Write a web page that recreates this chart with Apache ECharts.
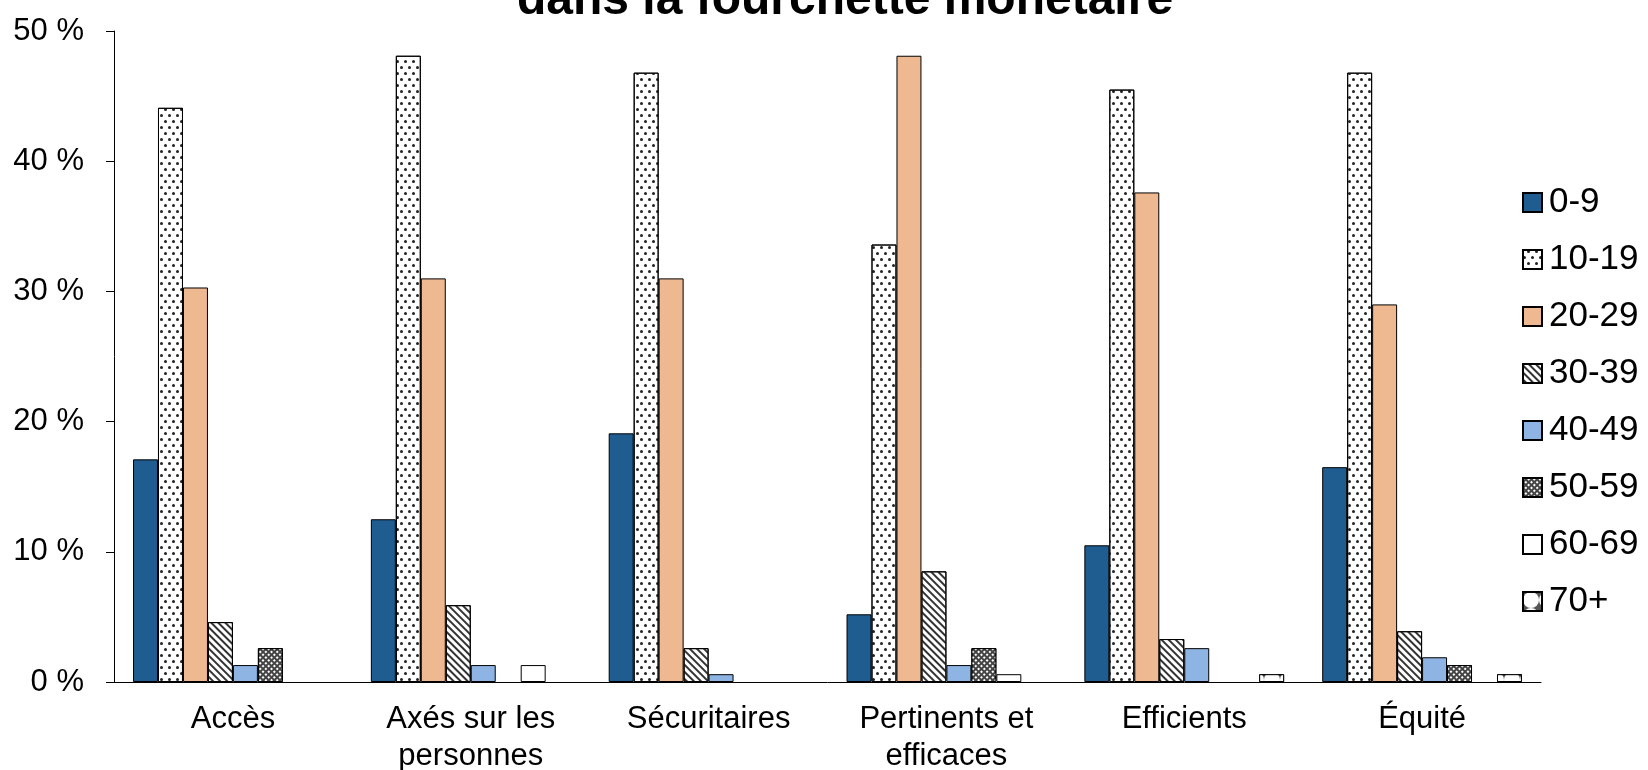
<!DOCTYPE html>
<html>
<head>
<meta charset="utf-8">
<script src="https://cdn.jsdelivr.net/npm/echarts@6/dist/echarts.min.js"></script>
<style>
  html, body { margin: 0; padding: 0; background: #fff; }
  #chart { width: 1648px; height: 770px; }
</style>
</head>
<body>
<div id="chart"></div>
<script>
const categories = ["Accès", "Axés sur les\npersonnes", "Sécuritaires", "Pertinents et\nefficaces", "Efficients", "Équité"];
const tranches = ["0-9", "10-19", "20-29", "30-39", "40-49", "50-59", "60-69", "70+"];
const yTicks = [0, 10, 20, 30, 40, 50];

const t0_9 = [17.1, 12.5, 19.1, 5.2, 10.5, 16.5];
const t10_19 = [44.1, 48.1, 46.8, 33.6, 45.5, 46.8];
const t20_29 = [30.3, 31.0, 31.0, 48.1, 37.6, 29.0];
const t30_39 = [4.6, 5.9, 2.6, 8.5, 3.3, 3.9];
const t40_49 = [1.3, 1.3, 0.6, 1.3, 2.6, 1.9];
const t50_59 = [2.6, 0, 0, 2.6, 0, 1.3];
const t60_69 = [0, 1.3, 0, 0.6, 0, 0];
const t70plus = [0, 0, 0, 0, 0.6, 0.6];

const valeurs = [t0_9, t10_19, t20_29, t30_39, t40_49, t50_59, t60_69, t70plus];

// fill + motif de chaque tranche
const styles = [
  { color: "#1F5C8F" },
  { color: "#fff", decal: { symbol: "circle", symbolSize: 1, color: "#222", dashArrayX: [[3, 5], [0, 4, 3, 1]], dashArrayY: [3, 3] } },
  { color: "#EEB891" },
  { color: "#fff", decal: { symbol: "rect", symbolSize: 1, color: "#333", dashArrayX: [1, 0], dashArrayY: [2, 3], rotation: Math.PI / 4 } },
  { color: "#8EB4E3" },
  { color: "#444", decal: { symbol: "rect", symbolSize: 1, color: "#fff", dashArrayX: [2, 2], dashArrayY: [2, 2], rotation: Math.PI / 4 } },
  { color: "#fff" },
  { color: "#555", decal: { symbol: "circle", symbolSize: 1, color: "#fff", dashArrayX: [16, 0], dashArrayY: [16, 0] } }
];

const chart = echarts.init(document.getElementById("chart"));

const series = tranches.map((nom, i) => ({
  name: nom,
  type: "bar",
  // pas de barre quand la valeur est nulle
  data: valeurs[i].map((v) => (v === 0 ? null : v)),
  barGap: "0%",
  barCategoryGap: "16%",
  itemStyle: Object.assign({ borderColor: "#000", borderWidth: 1 }, styles[i])
}));

chart.setOption({
  animation: false,
  textStyle: { fontFamily: "Liberation Sans, Arial, sans-serif", color: "#000" },
  title: {
    text: "dans la fourchette monétaire",
    left: 840,
    textAlign: "center",
    top: -28,
    textStyle: { fontSize: 48, fontWeight: "bold", color: "#000", fontFamily: "Liberation Sans, Arial, sans-serif" }
  },
  legend: {
    orient: "vertical",
    left: 1522,
    top: 185,
    icon: "rect",
    itemWidth: 19,
    itemHeight: 19,
    itemGap: 22,
    padding: 0,
    data: tranches,
    textStyle: { fontSize: 35, color: "#000", padding: [0, 0, 0, 2] }
  },
  grid: { left: 114, right: 107, top: 31, bottom: 88, outerBoundsMode: "none", containLabel: false },
  xAxis: {
    type: "category",
    data: categories,
    axisLine: { lineStyle: { color: "#000", width: 1 } },
    axisTick: { length: 9, lineStyle: { color: "#000" } },
    axisLabel: { fontSize: 31, lineHeight: 37, margin: 19, interval: 0, color: "#000" }
  },
  yAxis: {
    type: "value",
    min: yTicks[0],
    max: yTicks[yTicks.length - 1],
    interval: 10,
    axisLine: { show: true, lineStyle: { color: "#000", width: 1 } },
    axisTick: { show: true, length: 8, lineStyle: { color: "#000" } },
    splitLine: { show: false },
    axisLabel: { fontSize: 31, margin: 30, color: "#000", formatter: "{value} %" }
  },
  series: series
});
</script>
</body>
</html>
